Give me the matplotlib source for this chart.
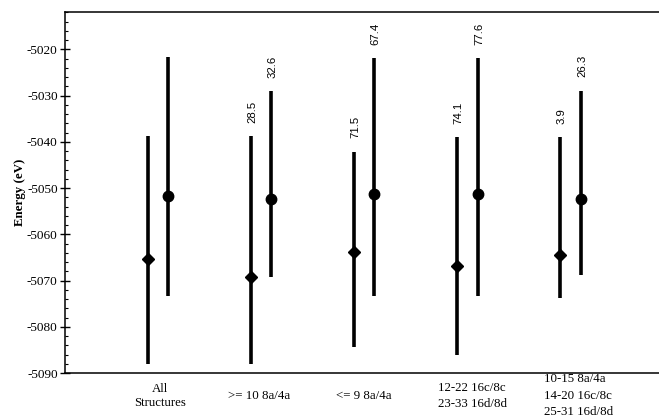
import matplotlib
matplotlib.use('Agg')
import matplotlib.pyplot as plt
import matplotlib.transforms as mtransforms
from matplotlib.ticker import MultipleLocator

plt.rcParams['axes.unicode_minus'] = False

groups = ['All\nStructures', '>= 10 8a/4a', '<= 9 8a/4a',
          '12-22 16c/8c\n23-33 16d/8d', '10-15 8a/4a\n14-20 16c/8c\n25-31 16d/8d']

# diamond series: mean, min, max
dia_mean = [-5065.4, -5069.3, -5063.9, -5066.8, -5064.5]
dia_low = [-5088.0, -5088.0, -5084.3, -5086.0, -5073.7]
dia_high = [-5038.8, -5038.8, -5042.1, -5038.9, -5038.9]
dia_text = [None, '28.5', '71.5', '74.1', '3.9']

# circle series: mean, min, max
circ_mean = [-5051.6, -5052.4, -5051.3, -5051.3, -5052.4]
circ_low = [-5073.4, -5069.2, -5073.4, -5073.4, -5068.9]
circ_high = [-5021.6, -5029.0, -5021.8, -5021.8, -5028.9]
circ_text = [None, '32.6', '67.4', '77.6', '26.3']

serif = 'Liberation Serif'
sans = 'Liberation Sans'

fig = plt.figure(figsize=(6.59, 4.18), dpi=100)
ax = fig.add_axes([65 / 659, 45 / 418, 1 - 65 / 659, 361 / 418])

pos = list(range(1, len(groups) + 1))
off = 0.1
for i, p in enumerate(pos):
    xd = p - off
    xc = p + off
    ax.vlines(xd, dia_low[i], dia_high[i], color='black', lw=2.6, capstyle='butt')
    ax.plot(xd, dia_mean[i], marker='D', ms=6.3, color='black')
    ax.vlines(xc, circ_low[i], circ_high[i], color='black', lw=2.6, capstyle='butt')
    ax.plot(xc, circ_mean[i], marker='o', ms=7.5, color='black')
    if dia_text[i]:
        ax.annotate(dia_text[i], (xd, dia_high[i]), xytext=(1, 9.5),
                    textcoords='offset points', rotation=90, ha='center',
                    va='bottom', fontsize=8.2, family=sans)
    if circ_text[i]:
        ax.annotate(circ_text[i], (xc, circ_high[i]), xytext=(1, 9.5),
                    textcoords='offset points', rotation=90, ha='center',
                    va='bottom', fontsize=8.2, family=sans)

ax.set_xlim(0.098, 5.86)
ax.set_ylim(-5090, -5011.9)
ax.yaxis.set_major_locator(MultipleLocator(10))
ax.yaxis.set_minor_locator(MultipleLocator(2))
ax.tick_params(axis='y', which='major', direction='inout', length=6.5, width=1, pad=2)
ax.tick_params(axis='y', which='minor', direction='in', length=2.5, width=0.8)
ax.set_xticks(pos)
ax.set_xticklabels(groups, family=serif, fontsize=9.3, va='center', linespacing=1.5)
ax.tick_params(axis='x', length=0, pad=16.5)
xlabs = ax.get_xticklabels()
xlabs[0].set_linespacing(1.25)
xlabs[-1].set_multialignment('left')
shifts = [2, -2, 0, 5, 8]
for lab, dx in zip(xlabs, shifts):
    lab.set_transform(lab.get_transform() + mtransforms.ScaledTranslation(dx / 100, 0, fig.dpi_scale_trans))
for lab in ax.get_yticklabels():
    lab.set_family(serif)
    lab.set_fontsize(9.5)

ax.set_ylabel('Energy (eV)', family=serif, fontweight='bold', fontsize=9.3, labelpad=1)
ax.spines['right'].set_visible(False)
for s in ['left', 'top', 'bottom']:
    ax.spines[s].set_linewidth(1.1)

fig.savefig('out.png', dpi=100)
